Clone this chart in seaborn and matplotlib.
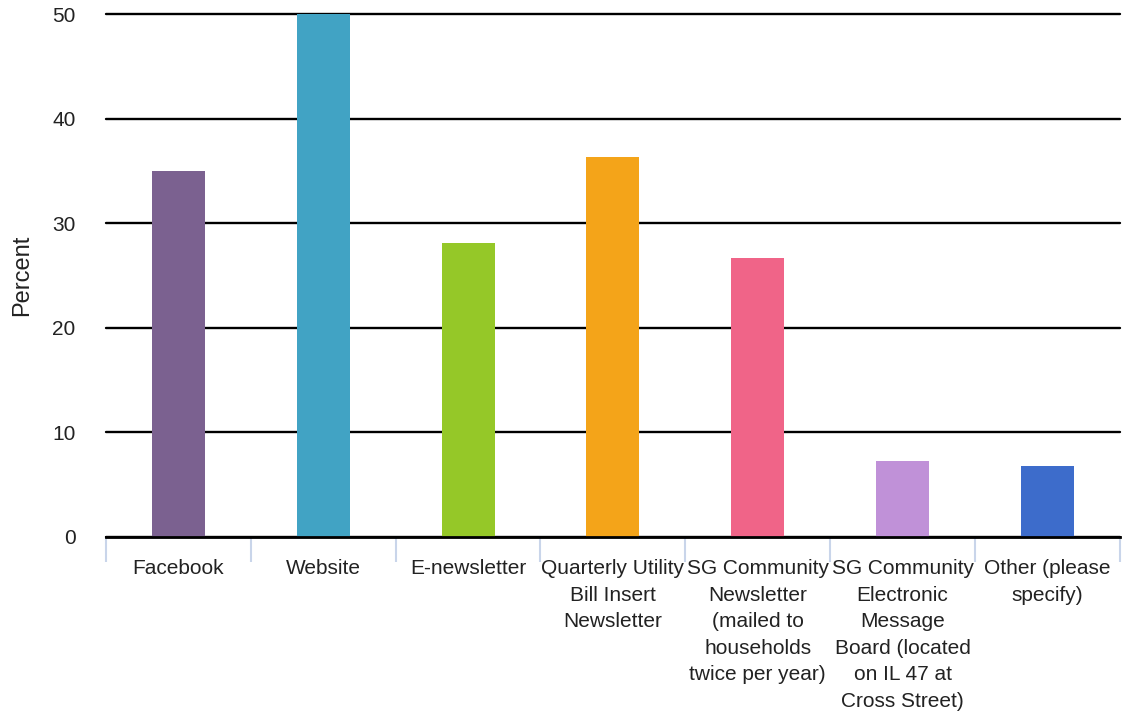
import matplotlib
matplotlib.use("Agg")
import matplotlib.pyplot as plt
import seaborn as sns
import pandas as pd

categories = [
    "Facebook",
    "Website",
    "E-newsletter",
    "Quarterly Utility\nBill Insert\nNewsletter",
    "SG Community\nNewsletter\n(mailed to\nhouseholds\ntwice per year)",
    "SG Community\nElectronic\nMessage\nBoard (located\non IL 47 at\nCross Street)",
    "Other (please\nspecify)",
]
percent = [35.0, 50.0, 28.1, 36.3, 26.7, 7.3, 6.8]
colors = ["#7b6190", "#41a3c4", "#95c828", "#f4a419", "#f06488", "#c091d8", "#3d6ccb"]
y_ticks = [0, 10, 20, 30, 40, 50]

sns.set_theme(style="white")
plt.rcParams["font.family"] = ["Liberation Sans", "DejaVu Sans"]

df = pd.DataFrame({"category": categories, "percent": percent})

fig = plt.figure(figsize=(11.22, 7.16), dpi=100)
ax = fig.add_axes([0.0945, 0.25, 0.9035, 0.7304])

sns.barplot(data=df, x="category", y="percent", hue="category",
            palette=colors, width=0.365, legend=False, saturation=1,
            linewidth=0, edgecolor="none", ax=ax, zorder=2)

ax.set_ylim(0, 50)
ax.set_xlim(-0.5, len(categories) - 0.5)
ax.set_yticks(y_ticks)
ax.yaxis.grid(True, color="black", linewidth=1.7)
ax.set_axisbelow(True)
for gl in ax.yaxis.get_gridlines():
    gl.set_clip_on(False)

for s in ["top", "right", "left"]:
    ax.spines[s].set_visible(False)
ax.spines["bottom"].set_color("black")
ax.spines["bottom"].set_linewidth(2)
ax.spines["bottom"].set_zorder(5)

ax.tick_params(axis="y", length=0, pad=22, labelsize=15, labelcolor="#222222")
ax.set_xticks(range(len(categories)))
ax.set_xticklabels(categories, fontsize=15, color="#222222", linespacing=1.5, va="top")
ax.tick_params(axis="x", which="major", length=0, pad=16)
ax.set_xticks([i - 0.5 for i in range(len(categories) + 1)], minor=True)
ax.tick_params(axis="x", which="minor", length=18, width=1.5, color="#c9d5ea", direction="out")
ax.xaxis.set_tick_params(which="minor", bottom=True)

ax.set_xlabel("")
ax.set_ylabel("Percent", fontsize=17, color="#222222", labelpad=14)

fig.savefig("out.png", dpi=100)
